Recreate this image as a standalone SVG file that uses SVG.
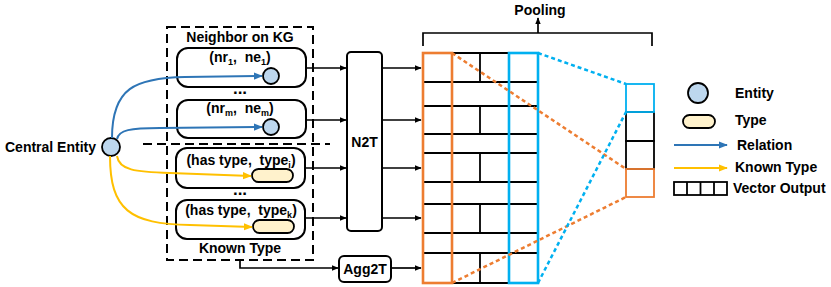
<svg xmlns="http://www.w3.org/2000/svg" width="831" height="287" viewBox="0 0 831 287">
<style>
text{font-family:"Liberation Sans",Arial,sans-serif;font-weight:bold;font-size:14px;fill:#000}
.c{text-anchor:middle}
.sub{font-size:9px}
.dots{font-size:17px}
.box{fill:#fff;stroke:#000;stroke-width:2}
.ent{fill:#BDD7EE;stroke:#000;stroke-width:1.8}
.typ{fill:#FFF2CC;stroke:#000;stroke-width:1.8}
.ln{fill:none;stroke:#000;stroke-width:1.7}
.dash{fill:none;stroke:#000;stroke-width:2;stroke-dasharray:9 5}
.rel{fill:none;stroke:#2E75B6;stroke-width:2}
.kt{fill:none;stroke:#FFC000;stroke-width:2}
.grid{stroke:#000;stroke-width:1.8;fill:none}
.or{fill:none;stroke:#ED7D31;stroke-width:2.6}
.bl{fill:none;stroke:#00B0F0;stroke-width:2.6}
.ord{fill:none;stroke:#ED7D31;stroke-width:2.5;stroke-dasharray:4 3}
.bld{fill:none;stroke:#00B0F0;stroke-width:2.5;stroke-dasharray:4 3}
</style>
<defs>
<marker id="ak" viewBox="0 0 10 10" refX="9" refY="5" markerWidth="7" markerHeight="7" orient="auto" markerUnits="userSpaceOnUse"><path d="M0,1 L10,5 L0,9 z" fill="#000"/></marker>
<marker id="ab" viewBox="0 0 10 10" refX="9" refY="5" markerWidth="9" markerHeight="9" orient="auto" markerUnits="userSpaceOnUse"><path d="M0,1 L10,5 L0,9 z" fill="#2E75B6"/></marker>
<marker id="ay" viewBox="0 0 10 10" refX="9" refY="5" markerWidth="9" markerHeight="9" orient="auto" markerUnits="userSpaceOnUse"><path d="M0,1 L10,5 L0,9 z" fill="#FFC000"/></marker>
</defs>

<!-- dashed grouping box -->
<g id="kg-group">
<rect x="167" y="27" width="146" height="233" class="dash"/>
<line x1="143" y1="144" x2="330" y2="144" class="dash"/>
<text x="240" y="42" class="c">Neighbor on KG</text>
<text x="240" y="253" class="c">Known Type</text>
</g>

<g id="central-entity">
<circle cx="111" cy="147" r="9" class="ent"/>
<text x="96" y="152" text-anchor="end">Central Entity</text>
</g>

<g id="neighbor-1">
<rect x="177" y="48" width="129" height="39" rx="11" class="box"/>
<text x="240" y="62" class="c" xml:space="preserve">(nr<tspan class="sub" dy="3">1</tspan><tspan dy="-3">,  ne</tspan><tspan class="sub" dy="3">1</tspan><tspan dy="-3">)</tspan></text>
<circle cx="271" cy="76" r="8" class="ent"/>
</g>
<text x="240" y="94" class="c dots">...</text>
<g id="neighbor-m">
<rect x="177" y="100" width="129" height="38" rx="11" class="box"/>
<text x="240" y="113" class="c" xml:space="preserve">(nr<tspan class="sub" dy="3">m</tspan><tspan dy="-3">,  ne</tspan><tspan class="sub" dy="3">m</tspan><tspan dy="-3">)</tspan></text>
<circle cx="271" cy="127" r="8" class="ent"/>
</g>

<g id="type-i">
<rect x="176" y="148" width="129" height="40" rx="11" class="box"/>
<text x="241" y="165" class="c" xml:space="preserve">(has type,  type<tspan class="sub" dy="3">i</tspan><tspan dy="-3">)</tspan></text>
<rect x="252" y="169" width="41" height="13" rx="6.5" class="typ"/>
</g>
<text x="240" y="195" class="c dots">...</text>
<g id="type-k">
<rect x="176" y="200" width="129" height="39" rx="11" class="box"/>
<text x="241" y="215" class="c" xml:space="preserve">(has type,  type<tspan class="sub" dy="3">k</tspan><tspan dy="-3">)</tspan></text>
<rect x="253" y="220" width="41" height="13" rx="6.5" class="typ"/>
</g>

<g id="n2t">
<rect x="347" y="52" width="35" height="179" rx="4" class="box"/>
<text x="364.5" y="147" class="c">N2T</text>
</g>

<g id="agg2t">
<rect x="339" y="256" width="52" height="26" rx="5" class="box"/>
<text x="365" y="274" class="c">Agg2T</text>
</g>

<g id="matrix">
<g class="grid">
<line x1="423" y1="53" x2="538" y2="53"/>
<line x1="423" y1="82" x2="538" y2="82"/>
<line x1="423" y1="106" x2="538" y2="106"/>
<line x1="423" y1="134" x2="538" y2="134"/>
<line x1="423" y1="153" x2="538" y2="153"/>
<line x1="423" y1="182" x2="538" y2="182"/>
<line x1="423" y1="204" x2="538" y2="204"/>
<line x1="423" y1="233" x2="538" y2="233"/>
<line x1="423" y1="253" x2="538" y2="253"/>
<line x1="423" y1="283" x2="538" y2="283"/>
<line x1="480" y1="53" x2="480" y2="82"/>
<line x1="480" y1="106" x2="480" y2="134"/>
<line x1="480" y1="153" x2="480" y2="182"/>
<line x1="480" y1="204" x2="480" y2="233"/>
<line x1="480" y1="253" x2="480" y2="283"/>
</g>
<rect x="423" y="53" width="29" height="230" class="or"/>
<rect x="509" y="53" width="29" height="230" class="bl"/>
</g>

<g id="pooling">
<path d="M423,46 L423,33 L652,33 L652,46" class="ln"/>
<line x1="538" y1="33" x2="538" y2="18" class="ln" marker-end="url(#ak)"/>
<text x="540" y="15" class="c">Pooling</text>
</g>

<g id="output-vector">
<rect x="626" y="112" width="28" height="29" class="grid"/>
<rect x="626" y="141" width="28" height="28" class="grid"/>
<rect x="626" y="84" width="28" height="28" fill="none" stroke="#00B0F0" stroke-width="1.8"/>
<rect x="626" y="169" width="28" height="28" fill="none" stroke="#ED7D31" stroke-width="1.8"/>
</g>

<g id="connectors">
<path d="M112,138 C112,88 135,78 185,77 L262,76" class="rel" marker-end="url(#ab)"/>
<path d="M117,139 C119,130 130,128 160,128 L262,127" class="rel" marker-end="url(#ab)"/>
<path d="M117,156 C119,170 135,172 170,173 L251,176" class="kt" marker-end="url(#ay)"/>
<path d="M110,156 C110,210 130,224 190,225 L252,227" class="kt" marker-end="url(#ay)"/>
<line x1="306" y1="68" x2="346" y2="68" class="ln" marker-end="url(#ak)"/>
<line x1="306" y1="120" x2="346" y2="120" class="ln" marker-end="url(#ak)"/>
<line x1="305" y1="168" x2="346" y2="168" class="ln" marker-end="url(#ak)"/>
<line x1="305" y1="218" x2="346" y2="218" class="ln" marker-end="url(#ak)"/>
<line x1="382" y1="68" x2="421" y2="68" class="ln" marker-end="url(#ak)"/>
<line x1="382" y1="120" x2="421" y2="120" class="ln" marker-end="url(#ak)"/>
<line x1="382" y1="168" x2="421" y2="168" class="ln" marker-end="url(#ak)"/>
<line x1="382" y1="218" x2="421" y2="218" class="ln" marker-end="url(#ak)"/>
<path d="M240,261 L240,268 L338,268" class="ln" marker-end="url(#ak)"/>
<line x1="391" y1="268" x2="421" y2="268" class="ln" marker-end="url(#ak)"/>
<line x1="452" y1="53" x2="626" y2="169" class="ord"/>
<line x1="452" y1="283" x2="626" y2="197" class="ord"/>
<line x1="538" y1="53" x2="626" y2="84" class="bld"/>
<line x1="538" y1="283" x2="626" y2="112" class="bld"/>
</g>

<g id="legend">
<circle cx="698" cy="93" r="10" class="ent"/>
<text x="735" y="98">Entity</text>
<rect x="683" y="115" width="32" height="13" rx="6.5" class="typ"/>
<text x="735" y="125">Type</text>
<line x1="674" y1="145" x2="727" y2="145" class="rel" marker-end="url(#ab)"/>
<text x="737" y="150">Relation</text>
<line x1="674" y1="168" x2="727" y2="168" class="kt" marker-end="url(#ay)"/>
<text x="735" y="172">Known Type</text>
<g class="grid">
<rect x="674" y="182" width="53" height="13"/>
<line x1="687" y1="182" x2="687" y2="195"/>
<line x1="700.5" y1="182" x2="700.5" y2="195"/>
<line x1="714" y1="182" x2="714" y2="195"/>
</g>
<text x="733" y="193">Vector Output</text>
</g>
</svg>
